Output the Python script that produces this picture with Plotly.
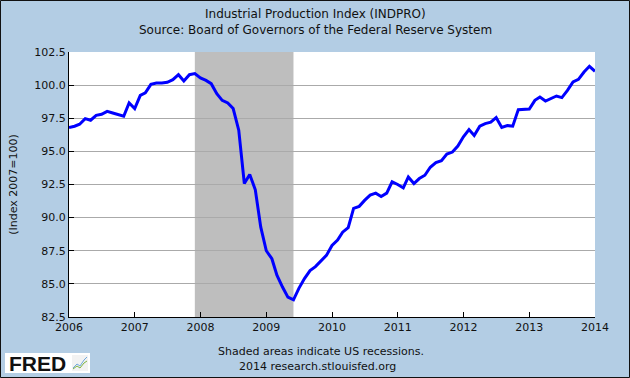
import plotly.graph_objects as go

# Monthly Industrial Production Index (2007=100), Jan 2006 - Jan 2014
start_year = 2006
indpro = [
    # 2006
    96.8, 96.9, 97.05, 97.47, 97.35, 97.72, 97.8, 98.02, 97.9, 97.8, 97.65, 98.65,
    # 2007
    98.23, 99.23, 99.41, 100.06, 100.16, 100.16, 100.21, 100.41, 100.79, 100.31, 100.79, 100.87,
    # 2008
    100.54, 100.36, 100.11, 99.36, 98.85, 98.65, 98.23, 96.6, 92.57, 93.25, 92.1, 89.3,
    # 2009
    87.5, 86.9, 85.65, 84.76, 84.0, 83.8, 84.66, 85.4, 86.0, 86.3, 86.7, 87.15,
    # 2010
    87.9, 88.3, 88.9, 89.25, 90.7, 90.85, 91.3, 91.7, 91.85, 91.6, 91.85, 92.7,
    # 2011
    92.5, 92.24, 93.07, 92.57, 92.95, 93.2, 93.8, 94.15, 94.3, 94.8, 94.95, 95.4,
    # 2012
    96.1, 96.65, 96.2, 96.9, 97.1, 97.2, 97.55, 96.8, 96.95, 96.9, 98.15, 98.15,
    # 2013
    98.2, 98.85, 99.1, 98.8, 98.98, 99.18, 99.06, 99.6, 100.24, 100.44, 100.99, 101.42,
    # 2014
    101.04,
]
dates = [f"{start_year + i // 12}-{i % 12 + 1:02d}-01" for i in range(len(indpro))]

recession_start = "2007-12-01"
recession_end = "2009-06-01"

year_ticks = [f"{y}-01-01" for y in range(2006, 2015)]
year_labels = [str(y) for y in range(2006, 2015)]
y_ticks = [82.5, 85.0, 87.5, 90.0, 92.5, 95.0, 97.5, 100.0, 102.5]

title = "Industrial Production Index (INDPRO)"
subtitle = "Source: Board of Governors of the Federal Reserve System"
y_title = "(Index 2007=100)"
note1 = "Shaded areas indicate US recessions."
note2 = "2014 research.stlouisfed.org"

BG = "#B3CDE4"
FONT = "DejaVu Sans"

# geometry of plot area in pixels
W, H = 630, 378
L, R, T, B = 69, 35, 52, 61
pw, ph = W - L - R, H - T - B


def px(x):
    return (x - L) / pw


def py(y):
    return (H - B - y) / ph


fig = go.Figure()

fig.add_vrect(x0=recession_start, x1=recession_end, fillcolor="#BEBEBE",
              opacity=1, line_width=0, layer="below")

fig.add_trace(go.Scatter(x=dates, y=indpro, mode="lines",
                         line=dict(color="#0000FF", width=3),
                         hoverinfo="x+y", showlegend=False))

fig.update_layout(
    width=W, height=H,
    margin=dict(l=L, r=R, t=T, b=B),
    paper_bgcolor=BG, plot_bgcolor="white",
    font=dict(family=FONT, size=11, color="#111"),
    xaxis=dict(
        range=["2006-01-01", "2014-01-01"],
        tickvals=year_ticks, ticktext=year_labels,
        ticks="inside", ticklen=5, tickcolor="black", tickwidth=1,
        showgrid=False, showline=True, linecolor="black", linewidth=1,
        zeroline=False, tickfont=dict(size=11, color="#111"),
    ),
    yaxis=dict(
        range=[82.5, 102.5], tickvals=y_ticks,
        tickformat=".1f",
        ticks="inside", ticklen=5, tickcolor="black", tickwidth=1,
        showgrid=True, gridcolor="#AAAAAA", gridwidth=1,
        showline=True, linecolor="black", linewidth=1,
        zeroline=False, tickfont=dict(size=11, color="#111"),
        title=dict(text=y_title, font=dict(size=11, color="#111"), standoff=14),
    ),
)

annotations = [
    dict(text=title, x=px(315), y=py(14), size=12),
    dict(text=subtitle, x=px(315), y=py(30), size=12),
    dict(text=note1, x=px(321), y=py(351), size=11),
    dict(text=note2, x=px(317), y=py(366), size=11),
]
for a in annotations:
    fig.add_annotation(text=a["text"], x=a["x"], y=a["y"], xref="paper", yref="paper",
                       showarrow=False, xanchor="center", yanchor="middle",
                       font=dict(family=FONT, size=a["size"], color="#111"))

# FRED logo box
fig.add_shape(type="rect", xref="paper", yref="paper",
              x0=px(5), x1=px(90), y0=py(373), y1=py(353),
              fillcolor="white", line=dict(width=0))
fig.add_annotation(text="<b>FRED</b>", x=px(7), y=py(363), xref="paper", yref="paper",
                   showarrow=False, xanchor="left", yanchor="middle",
                   font=dict(family="Liberation Sans", size=21, color="#111"))
fig.add_shape(type="rect", xref="paper", yref="paper",
              x0=px(72), x1=px(88), y0=py(371), y1=py(355),
              fillcolor="#F2F2F2", line=dict(width=0))
fig.add_shape(type="path", xref="paper", yref="paper",
              path=f"M {px(73)},{py(368)} L {px(77)},{py(364)} L {px(80)},{py(366)} L {px(84)},{py(360)} L {px(87)},{py(357)}",
              line=dict(color="#6FA8DC", width=1))
fig.add_shape(type="path", xref="paper", yref="paper",
              path=f"M {px(73)},{py(369)} L {px(77)},{py(366)} L {px(80)},{py(368)} L {px(84)},{py(363)} L {px(87)},{py(361)}",
              line=dict(color="#7CB342", width=1))

# outer frame
fig.add_shape(type="rect", xref="paper", yref="paper",
              x0=px(0.5), x1=px(629.5), y0=py(377.5), y1=py(0.5),
              line=dict(color="#111", width=1), fillcolor="rgba(0,0,0,0)")

fig.write_html(
    "out.html",
    config={"displayModeBar": False},
    post_script="document.body.style.margin='0';document.body.style.overflow='hidden';",
)
